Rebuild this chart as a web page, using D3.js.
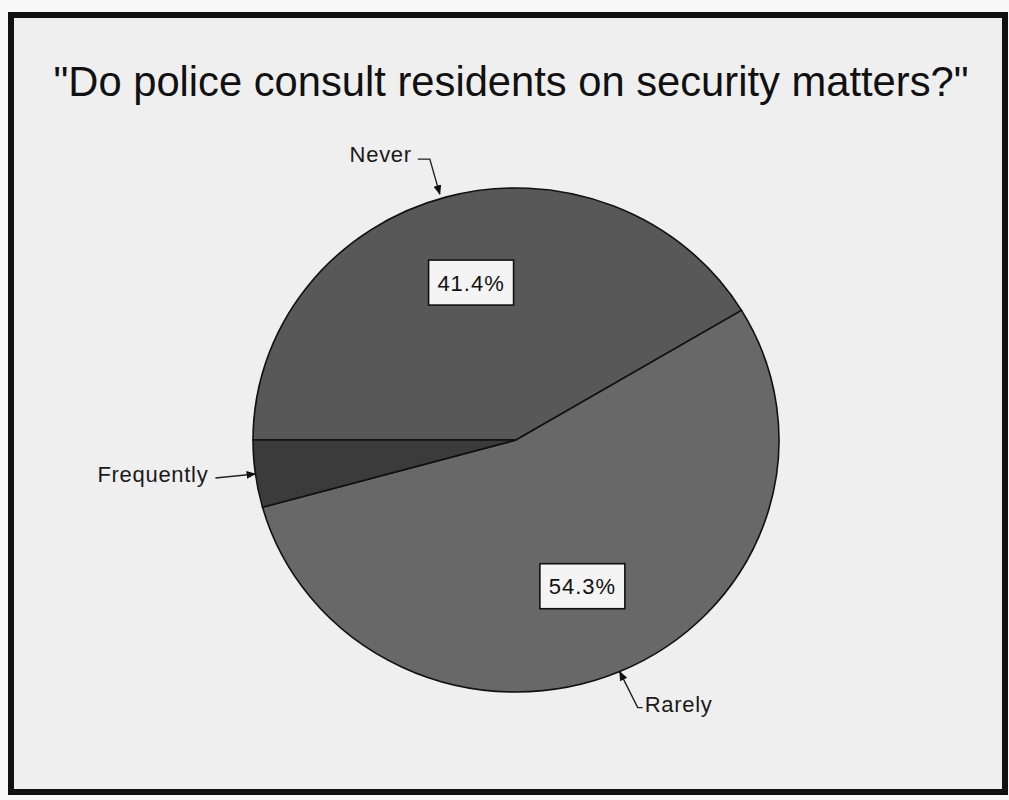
<!DOCTYPE html>
<html>
<head>
<meta charset="utf-8">
<script src="https://cdn.jsdelivr.net/npm/d3@7/dist/d3.min.js"></script>
<style>
  html, body { margin: 0; padding: 0; background: #f7f7f7; }
  svg { display: block; }
  text { font-family: "Liberation Sans", Arial, sans-serif; }
</style>
</head>
<body>
<svg id="chart" width="1009" height="800"></svg>
<script>
// ---- data ----
const title = '"Do police consult residents on security matters?"';
const categories = ["Never", "Rarely", "Frequently"];
const values = [41.4, 54.3, 4.3];
const percentLabels = ["41.4%", "54.3%", null];
const colors = ["#585858", "#686868", "#3b3b3b"];

// ---- layout ----
const W = 1009, H = 800;
const cx = 516, cy = 440, rx = 263, ry = 252;
const svg = d3.select("#chart");

// frame / page
svg.append("rect").attr("x", 0).attr("y", 0).attr("width", W).attr("height", H).attr("fill", "#f8f8f8");
svg.append("rect").attr("x", 11).attr("y", 15).attr("width", 994).attr("height", 777)
  .attr("fill", "#efefef").attr("stroke", "#111").attr("stroke-width", 6);

// title
svg.append("text").attr("x", 511).attr("y", 96).attr("text-anchor", "middle")
  .attr("font-size", 42).attr("textLength", 915).attr("lengthAdjust", "spacingAndGlyphs")
  .attr("fill", "#111").text(title);

// pie
const data = categories.map((c, i) => ({ cat: c, value: values[i], label: percentLabels[i], color: colors[i] }));
const pie = d3.pie().value(d => d.value).sort(null).startAngle(-Math.PI / 2).endAngle(1.5 * Math.PI);
const arcs = pie(data);
const arc = d3.arc().innerRadius(0).outerRadius(rx);

const g = svg.append("g").attr("transform", `translate(${cx},${cy}) scale(1,${ry / rx})`);
g.selectAll("path").data(arcs).join("path")
  .attr("d", arc)
  .attr("fill", d => d.data.color)
  .attr("stroke", "#111")
  .attr("stroke-width", 1.6)
  .attr("vector-effect", "non-scaling-stroke");

// helper: point on the ellipse at d3 angle a with radius factor k
function pt(a, k) {
  return [cx + rx * k * Math.sin(a), cy - ry * k * Math.cos(a)];
}
function mid(d) { return (d.startAngle + d.endAngle) / 2; }

// percent boxes
arcs.filter(d => d.data.label).forEach(d => {
  const [x, y] = pt(mid(d), 0.64);
  const bw = 85, bh = 45;
  svg.append("rect").attr("x", x - bw / 2).attr("y", y - bh / 2 - 2).attr("width", bw).attr("height", bh)
    .attr("fill", "#f4f4f4").attr("stroke", "#111").attr("stroke-width", 1.6);
  svg.append("text").attr("x", x).attr("y", y + 6).attr("text-anchor", "middle")
    .attr("font-size", 22).attr("letter-spacing", 1).attr("fill", "#111").text(d.data.label);
});

// arrow marker
svg.append("defs").append("marker").attr("id", "arr")
  .attr("viewBox", "0 0 10 10").attr("refX", 9).attr("refY", 5)
  .attr("markerWidth", 7).attr("markerHeight", 7).attr("orient", "auto-start-reverse")
  .append("path").attr("d", "M0,1 L10,5 L0,9 Z").attr("fill", "#111");

// category labels with leader lines (offsets relative to the slice's outer mid-point)
const leaderOffsets = {
  "Never":      { pts: [[-28, -38], [-16, -38], [-6, -3]], tx: -34, ty: -35, anchor: "end" },
  "Rarely":     { pts: [[23, 36], [18, 36], [0, 0]], tx: 25, ty: 40, anchor: "start" },
  "Frequently": { pts: [[-40, 4], [0, 0]], tx: -47, ty: 8, anchor: "end" }
};
arcs.forEach(d => {
  const o = leaderOffsets[d.data.cat];
  const [tx0, ty0] = pt(mid(d), 1.0);
  const line = d3.line();
  svg.append("path")
    .attr("d", line(o.pts.map(p => [tx0 + p[0], ty0 + p[1]])))
    .attr("fill", "none").attr("stroke", "#222").attr("stroke-width", 1.4)
    .attr("marker-end", "url(#arr)");
  svg.append("text").attr("x", tx0 + o.tx).attr("y", ty0 + o.ty)
    .attr("text-anchor", o.anchor).attr("font-size", 22).attr("letter-spacing", 0.7)
    .attr("fill", "#1a1a1a").text(d.data.cat);
});
</script>
</body>
</html>
